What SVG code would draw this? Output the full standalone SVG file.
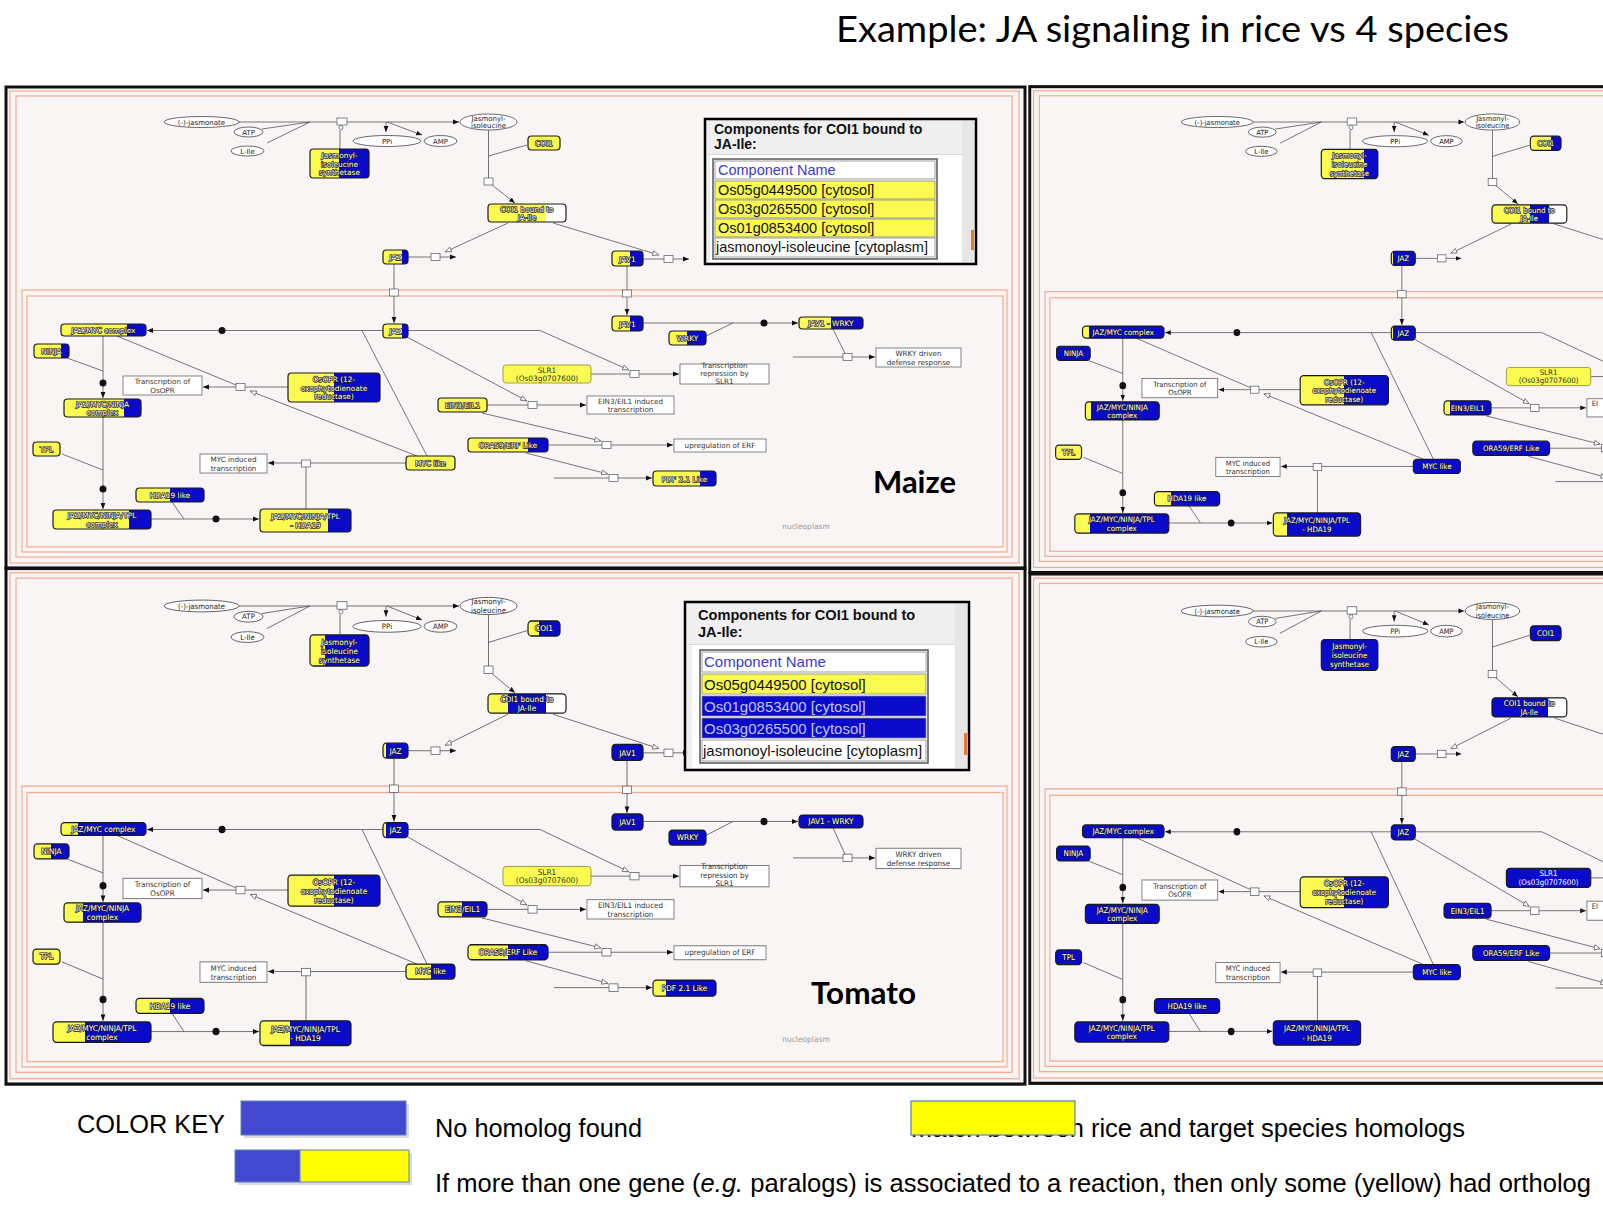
<svg xmlns="http://www.w3.org/2000/svg" width="1603" height="1229" viewBox="0 0 1603 1229">
<style>
.t{font-family:"DejaVu Sans",Verdana,sans-serif;font-size:7.4px;fill:#fff;stroke:#1a1a1a;stroke-width:1.4px;stroke-linejoin:round;paint-order:stroke;text-anchor:middle}
.ts{font-family:"DejaVu Sans",Verdana,sans-serif;font-size:7.4px;fill:#333;text-anchor:middle}
.tw{font-family:"DejaVu Sans",Verdana,sans-serif;font-size:7.4px;fill:#fff;text-anchor:middle}
.f{rx:3.5px;ry:3.5px}
.o{fill:none;stroke:#1a1a1a;stroke-width:1.2px;rx:3.5px;ry:3.5px}
.o1{fill:none;stroke:#8a8a3a;stroke-width:.8px;rx:3px;ry:3px}
.el{fill:#fff;stroke:#444;stroke-width:.8px}
.et{font-family:"DejaVu Sans",sans-serif;font-size:7px;fill:#222;text-anchor:middle}
.bx{fill:#fff;stroke:#666;stroke-width:.8px}
.bt{font-family:"DejaVu Sans",sans-serif;font-size:7.2px;fill:#333;text-anchor:middle}
.bs{font-family:"DejaVu Sans",sans-serif;font-size:7.2px;fill:#333}
.w{fill:none;stroke:#555;stroke-width:.8px}
.a{marker-end:url(#ah)}
.h{marker-end:url(#ht)}
.pb{fill:#fff;stroke:#555;stroke-width:.7px}
.d{fill:#111}
.bk{fill:#f9f5f4;stroke:#111;stroke-width:3px}
.or{fill:none;stroke:#f3ab90;stroke-width:1.2px}
.np{font-family:"DejaVu Sans",sans-serif;font-size:7.5px;fill:#999;text-anchor:middle}
.sy{stop-color:#fafa50}.sb{stop-color:#0a0acb}.sw{stop-color:#fff}
.Y{fill:#fafa50}.B{fill:#0a0acb}
.pp{fill:#efefef;stroke:#000;stroke-width:2.5px}
.ph{font-family:"Liberation Sans",Arial,sans-serif;font-weight:bold;font-size:14px;fill:#111}
.pr{font-family:"Liberation Sans",Arial,sans-serif;font-size:14.5px;fill:#111}
.pc{font-family:"Liberation Sans",Arial,sans-serif;font-size:14.5px;fill:#3a3acc}
.pl{font-family:"Liberation Sans",Arial,sans-serif;font-size:15px;fill:#c4c6ff}
.rw{fill:#fff;stroke:#888;stroke-width:.8px}
.ry{fill:#fafa50;stroke:#888;stroke-width:.8px}
.rb{fill:#0a0acb;stroke:#888;stroke-width:.8px}
.k{font-family:"Liberation Sans",Arial,sans-serif;font-size:25px;fill:#000}
.lab{font-family:Lato,"Open Sans",sans-serif;font-weight:bold;font-size:31px;fill:#000}
</style>
<defs>
<marker id="ah" viewBox="0 0 10 10" refX="10" refY="5" markerWidth="6" markerHeight="6" markerUnits="userSpaceOnUse" orient="auto"><path d="M0,1L10,5L0,9Z" fill="#111"/></marker>
<marker id="ht" viewBox="0 0 10 10" refX="10" refY="5" markerWidth="7" markerHeight="7" markerUnits="userSpaceOnUse" orient="auto"><path d="M1,1.5L9.5,5L1,8.5Z" fill="#fff" stroke="#555" stroke-width="1"/></marker>
<linearGradient id="y08"><stop offset=".08" class="sy"/><stop offset=".08" class="sb"/></linearGradient>
<linearGradient id="y12"><stop offset=".12" class="sy"/><stop offset=".12" class="sb"/></linearGradient>
<linearGradient id="y16"><stop offset=".16" class="sy"/><stop offset=".16" class="sb"/></linearGradient>
<linearGradient id="y20"><stop offset=".2" class="sy"/><stop offset=".2" class="sb"/></linearGradient>
<linearGradient id="y25"><stop offset=".25" class="sy"/><stop offset=".25" class="sb"/></linearGradient>
<linearGradient id="y33"><stop offset=".33" class="sy"/><stop offset=".33" class="sb"/></linearGradient>
<linearGradient id="y50"><stop offset=".5" class="sy"/><stop offset=".5" class="sb"/></linearGradient>
<linearGradient id="y58"><stop offset=".58" class="sy"/><stop offset=".58" class="sb"/></linearGradient>
<linearGradient id="y66"><stop offset=".66" class="sy"/><stop offset=".66" class="sb"/></linearGradient>
<linearGradient id="y75"><stop offset=".75" class="sy"/><stop offset=".75" class="sb"/></linearGradient>
<linearGradient id="y78"><stop offset=".78" class="sy"/><stop offset=".78" class="sb"/></linearGradient>
<linearGradient id="cbm"><stop offset=".75" class="sy"/><stop offset=".75" class="sw"/></linearGradient>
<linearGradient id="cbt"><stop offset=".26" class="sy"/><stop offset=".26" class="sb"/><stop offset=".75" class="sb"/><stop offset=".75" class="sw"/></linearGradient>
<linearGradient id="cbr"><stop offset=".51" class="sy"/><stop offset=".51" class="sb"/><stop offset=".76" class="sb"/><stop offset=".76" class="sw"/></linearGradient>
<linearGradient id="cbb"><stop offset=".75" class="sb"/><stop offset=".75" class="sw"/></linearGradient>
<g id="wires">
<path class="w" d="M239,122H337M262,129L310,122M267,143L310,122M340,149V130"/>
<path class="w a" d="M347,122H459"/>
<path class="w a" d="M386,122V132"/>
<path class="w a" d="M387,122L422,135"/>
<rect class="pb" x="337" y="118" width="10" height="7"/>
<circle class="pb" cx="341" cy="127.5" r="2"/>
<path class="w" d="M488.5,130V178M527,145L488.5,156"/>
<rect class="pb" x="484" y="178" width="9" height="7"/>
<path class="w a" d="M492,185L515,203"/>
<path class="w h" d="M508,223L445,252"/>
<path class="w" d="M408,257H431"/>
<rect class="pb" x="431" y="253.5" width="9" height="7"/>
<path class="w a" d="M440,257H456"/>
<path class="w h" d="M553,223L659,255"/>
<path class="w" d="M643,259H664"/>
<rect class="pb" x="664" y="255.5" width="9" height="7"/>
<path class="w a" d="M673,259H689"/>
<path class="w" d="M394,264V289"/>
<rect class="pb" x="389.5" y="289" width="9" height="7"/>
<path class="w a" d="M394,296V323"/>
<path class="w" d="M627,266V290"/>
<rect class="pb" x="622.5" y="290" width="9" height="7"/>
<path class="w a" d="M627,297V315"/>
<path class="w a" d="M383,330.5H147"/>
<circle class="d" cx="222" cy="330.5" r="3.5"/>
<path class="w h" d="M408,330.5H540L629,370"/>
<path class="w h" d="M407,337L527,401"/>
<path class="w" d="M362,330.5L427,456"/>
<path class="w" d="M117,336L236,385"/>
<path class="w h" d="M417,456L250,391"/>
<path class="w" d="M288,387H245"/>
<rect class="pb" x="236" y="383.5" width="9" height="7"/>
<path class="w a" d="M236,387H203"/>
<path class="w" d="M67,358L103,371M62,454L103,470M172,502L184,519"/>
<path class="w a" d="M103,335.5V398"/>
<circle class="d" cx="103" cy="383" r="3.5"/>
<path class="w a" d="M103,417V509"/>
<circle class="d" cx="103" cy="489" r="3.5"/>
<path class="w a" d="M151,519H259"/>
<circle class="d" cx="216" cy="519" r="3.5"/>
<path class="w" d="M306,509V467"/>
<rect class="pb" x="301.5" y="460" width="9" height="7"/>
<path class="w" d="M406,463H310.5"/>
<path class="w a" d="M301.5,463H268"/>
<path class="w" d="M591,374H630"/>
<rect class="pb" x="630" y="370.5" width="9" height="7"/>
<path class="w a" d="M639,374H679"/>
<path class="w" d="M487,405H528"/>
<rect class="pb" x="528" y="401.5" width="9" height="7"/>
<path class="w a" d="M537,405H586"/>
<path class="w h" d="M482,413L601,441"/>
<path class="w" d="M548,445H602"/>
<rect class="pb" x="602" y="441.5" width="9" height="7"/>
<path class="w a" d="M611,445H673"/>
<path class="w h" d="M526,453L608,474"/>
<path class="w" d="M554,478H609"/>
<rect class="pb" x="609" y="474.5" width="9" height="7"/>
<path class="w a" d="M618,478H652"/>
<path class="w a" d="M643,323H798"/>
<circle class="d" cx="764" cy="323" r="3.5"/>
<path class="w" d="M706,336L733,323M833,329L845,353.5M793,357H843"/>
<rect class="pb" x="843" y="353.5" width="9" height="7"/>
<path class="w a" d="M852,357H875"/>
</g>
</defs>
<rect width="1603" height="1229" fill="#fff"/>

<!-- ================= MAIZE ================= -->
<g id="panel-maize">
<rect class="bk" x="6" y="87" width="1019" height="481"/>
<rect class="or" x="10" y="91" width="1009" height="472"/>
<rect class="or" x="16" y="96" width="996" height="461"/>
<rect class="or" x="22" y="290" width="985" height="262"/>
<rect class="or" x="27" y="296" width="976" height="251"/>
<text class="np" x="806" y="529">nucleoplasm</text>
<g id="mz-connectors"><use href="#wires"/></g>
<g id="mz-nodes">
<g id="mz-jas"><ellipse class="el" cx="201.5" cy="122" rx="37.5" ry="5.5"/><text class="et" x="201.5" y="124.5">(-)-jasmonate</text></g>
<g id="mz-atp"><ellipse class="el" cx="248.5" cy="132" rx="14.5" ry="5"/><text class="et" x="248.5" y="134.5">ATP</text></g>
<g id="mz-lile"><ellipse class="el" cx="247.5" cy="151" rx="16.5" ry="5"/><text class="et" x="247.5" y="153.5">L-Ile</text></g>
<g id="mz-ppi"><ellipse class="el" cx="387" cy="141" rx="34" ry="5.5"/><text class="et" x="387" y="143.5">PPi</text></g>
<g id="mz-amp"><ellipse class="el" cx="440.5" cy="141" rx="16.5" ry="5.5"/><text class="et" x="440.5" y="143.5">AMP</text></g>
<g id="mz-jaile"><ellipse class="el" cx="488.5" cy="122" rx="28.5" ry="8"/><text class="et" x="488.5" y="120.5">Jasmonyl-</text><text class="et" x="488.5" y="128.3">isoleucine</text></g>
<g id="mz-topr"><rect class="bx" x="123" y="376" width="79" height="19"/><text class="bt" x="162.5" y="384.3">Transcription of</text><text class="bt" x="162.5" y="392.5">OsOPR</text></g>
<g id="mz-tmyc"><rect class="bx" x="200" y="454" width="67" height="19"/><text class="bt" x="233.5" y="462.3">MYC induced</text><text class="bt" x="233.5" y="470.5">transcription</text></g>
<g id="mz-tslr"><rect class="bx" x="680" y="364" width="89" height="20"/><text class="bt" x="724.5" y="367.5">Transcription</text><text class="bt" x="724.5" y="375.5">repression by</text><text class="bt" x="724.5" y="383.5">SLR1</text></g>
<g id="mz-tein"><rect class="bx" x="587" y="396" width="87" height="18"/><text class="bt" x="630.5" y="403.5">EIN3/EIL1 induced</text><text class="bt" x="630.5" y="411.7">transcription</text></g>
<g id="mz-terf"><rect class="bx" x="674" y="439" width="92" height="13"/><text class="bt" x="720" y="448">upregulation of ERF</text></g>
<g id="mz-twrky"><rect class="bx" x="876" y="348" width="85" height="19"/><text class="bt" x="918.5" y="356.3">WRKY driven</text><text class="bt" x="918.5" y="364.5">defense response</text></g>
<g id="mz-synth"><rect class="f" x="310" y="149" width="59" height="29" fill="url(#y50)"/><rect class="o" x="310" y="149" width="59" height="29"/><text class="t" x="339.5" y="158">Jasmonyl-</text><text class="t" x="339.5" y="166.5">isoleucine</text><text class="t" x="339.5" y="175">synthetase</text></g>
<g id="mz-coi1"><rect class="f Y" x="528" y="136" width="32" height="14"/><rect class="o" x="528" y="136" width="32" height="14"/><text class="t" x="544" y="145.7">COI1</text></g>
<g id="mz-cb"><rect class="f" x="488" y="204" width="78" height="18" fill="url(#cbm)"/><rect class="o" x="488" y="204" width="78" height="18"/><text class="t" x="527" y="211.8">COI1 bound to</text><text class="t" x="527" y="219.8">JA-Ile</text></g>
<g id="mz-jaz1"><rect class="f" x="383" y="250" width="25" height="14" fill="url(#y75)"/><rect class="o" x="383" y="250" width="25" height="14"/><text class="t" x="395.5" y="259.7">JAZ</text></g>
<g id="mz-jav1a"><rect class="f" x="612" y="251" width="31" height="15" fill="url(#y58)"/><rect class="o" x="612" y="251" width="31" height="15"/><text class="t" x="627.5" y="261.5">JAV1</text></g>
<g id="mz-jaz2"><rect class="f" x="383" y="324" width="25" height="14" fill="url(#y75)"/><rect class="o" x="383" y="324" width="25" height="14"/><text class="t" x="395.5" y="333.7">JAZ</text></g>
<g id="mz-jav1b"><rect class="f" x="612" y="316" width="31" height="15" fill="url(#y58)"/><rect class="o" x="612" y="316" width="31" height="15"/><text class="t" x="627.5" y="326.5">JAV1</text></g>
<g id="mz-wrky"><rect class="f" x="669" y="331" width="37" height="14" fill="url(#y50)"/><rect class="o" x="669" y="331" width="37" height="14"/><text class="t" x="687.5" y="340.7">WRKY</text></g>
<g id="mz-jw"><rect class="f" x="799" y="317" width="64" height="12" fill="url(#y50)"/><rect class="o" x="799" y="317" width="64" height="12"/><text class="t" x="831" y="325.8">JAV1 - WRKY</text></g>
<g id="mz-jm"><rect class="f" x="61" y="324" width="85" height="12" fill="url(#y78)"/><rect class="o" x="61" y="324" width="85" height="12"/><text class="t" x="103.5" y="332.8">JAZ/MYC complex</text></g>
<g id="mz-ninja"><rect class="f" x="34" y="344" width="35" height="14" fill="url(#y78)"/><rect class="o" x="34" y="344" width="35" height="14"/><text class="t" x="51.5" y="353.7">NINJA</text></g>
<g id="mz-jmn"><rect class="f" x="64" y="399" width="77" height="18" fill="url(#y78)"/><rect class="o" x="64" y="399" width="77" height="18"/><text class="t" x="102.5" y="406.8">JAZ/MYC/NINJA</text><text class="t" x="102.5" y="414.8">complex</text></g>
<g id="mz-tpl"><rect class="f Y" x="33" y="442" width="27" height="14"/><rect class="o" x="33" y="442" width="27" height="14"/><text class="t" x="46.5" y="451.7">TPL</text></g>
<g id="mz-jmnt"><rect class="f" x="53" y="510" width="98" height="19" fill="url(#y78)"/><rect class="o" x="53" y="510" width="98" height="19"/><text class="t" x="102" y="518.3">JAZ/MYC/NINJA/TPL</text><text class="t" x="102" y="526.5">complex</text></g>
<g id="mz-hda"><rect class="f" x="136" y="488" width="68" height="14" fill="url(#y50)"/><rect class="o" x="136" y="488" width="68" height="14"/><text class="t" x="170" y="497.7">HDA19 like</text></g>
<g id="mz-jmnth"><rect class="f" x="260" y="509" width="91" height="23" fill="url(#y75)"/><rect class="o" x="260" y="509" width="91" height="23"/><text class="t" x="305.5" y="519">JAZ/MYC/NINJA/TPL</text><text class="t" x="305.5" y="528">- HDA19</text></g>
<g id="mz-opr"><rect class="f" x="288" y="373" width="92" height="29" fill="url(#y50)"/><rect class="o" x="288" y="373" width="92" height="29"/><text class="t" x="334" y="382">OsOPR (12-</text><text class="t" x="334" y="390.5">oxophytodienoate</text><text class="t" x="334" y="399">reductase)</text></g>
<g id="mz-myc"><rect class="f Y" x="406" y="456" width="49" height="14"/><rect class="o" x="406" y="456" width="49" height="14"/><text class="t" x="430.5" y="465.7">MYC like</text></g>
<g id="mz-slr1"><rect class="f Y" x="503" y="365" width="88" height="18"/><rect class="o1" x="503" y="365" width="88" height="18"/><text class="ts" x="547" y="372.5">SLR1</text><text class="ts" x="547" y="380.7">(Os03g0707600)</text></g>
<g id="mz-ein3"><rect class="f Y" x="438" y="398" width="49" height="14"/><rect class="o" x="438" y="398" width="49" height="14"/><text class="t" x="462.5" y="407.7">EIN3/EIL1</text></g>
<g id="mz-ora"><rect class="f" x="468" y="438" width="80" height="14" fill="url(#y75)"/><rect class="o" x="468" y="438" width="80" height="14"/><text class="t" x="508" y="447.7">ORA59/ERF Like</text></g>
<g id="mz-pdf"><rect class="f" x="653" y="471" width="63" height="15" fill="url(#y75)"/><rect class="o" x="653" y="471" width="63" height="15"/><text class="t" x="684.5" y="481.5">PDF 2.1 Like</text></g>
</g>
</g>

<!-- ================= TOMATO ================= -->
<g id="panel-tomato" transform="matrix(1 0 0 1.072 0 475.2)">
<rect class="bk" x="6" y="87" width="1019" height="481"/>
<rect class="or" x="10" y="91" width="1009" height="472"/>
<rect class="or" x="16" y="96" width="996" height="461"/>
<rect class="or" x="22" y="290" width="985" height="262"/>
<rect class="or" x="27" y="296" width="976" height="251"/>
<text class="np" x="806" y="529">nucleoplasm</text>
<g id="to-connectors"><use href="#wires"/></g>
<g id="to-nodes">
<g id="to-jas"><ellipse class="el" cx="201.5" cy="122" rx="37.5" ry="5.5"/><text class="et" x="201.5" y="124.5">(-)-jasmonate</text></g>
<g id="to-atp"><ellipse class="el" cx="248.5" cy="132" rx="14.5" ry="5"/><text class="et" x="248.5" y="134.5">ATP</text></g>
<g id="to-lile"><ellipse class="el" cx="247.5" cy="151" rx="16.5" ry="5"/><text class="et" x="247.5" y="153.5">L-Ile</text></g>
<g id="to-ppi"><ellipse class="el" cx="387" cy="141" rx="34" ry="5.5"/><text class="et" x="387" y="143.5">PPi</text></g>
<g id="to-amp"><ellipse class="el" cx="440.5" cy="141" rx="16.5" ry="5.5"/><text class="et" x="440.5" y="143.5">AMP</text></g>
<g id="to-jaile"><ellipse class="el" cx="488.5" cy="122" rx="28.5" ry="8"/><text class="et" x="488.5" y="120.5">Jasmonyl-</text><text class="et" x="488.5" y="128.3">isoleucine</text></g>
<g id="to-topr"><rect class="bx" x="123" y="376" width="79" height="19"/><text class="bt" x="162.5" y="384.3">Transcription of</text><text class="bt" x="162.5" y="392.5">OsOPR</text></g>
<g id="to-tmyc"><rect class="bx" x="200" y="454" width="67" height="19"/><text class="bt" x="233.5" y="462.3">MYC induced</text><text class="bt" x="233.5" y="470.5">transcription</text></g>
<g id="to-tslr"><rect class="bx" x="680" y="364" width="89" height="20"/><text class="bt" x="724.5" y="367.5">Transcription</text><text class="bt" x="724.5" y="375.5">repression by</text><text class="bt" x="724.5" y="383.5">SLR1</text></g>
<g id="to-tein"><rect class="bx" x="587" y="396" width="87" height="18"/><text class="bt" x="630.5" y="403.5">EIN3/EIL1 induced</text><text class="bt" x="630.5" y="411.7">transcription</text></g>
<g id="to-terf"><rect class="bx" x="674" y="439" width="92" height="13"/><text class="bt" x="720" y="448">upregulation of ERF</text></g>
<g id="to-twrky"><rect class="bx" x="876" y="348" width="85" height="19"/><text class="bt" x="918.5" y="356.3">WRKY driven</text><text class="bt" x="918.5" y="364.5">defense response</text></g>
<g id="to-synth"><rect class="f" x="310" y="149" width="59" height="29" fill="url(#y25)"/><rect class="o" x="310" y="149" width="59" height="29"/><text class="t" x="339.5" y="158">Jasmonyl-</text><text class="t" x="339.5" y="166.5">isoleucine</text><text class="t" x="339.5" y="175">synthetase</text></g>
<g id="to-coi1"><rect class="f" x="528" y="136" width="32" height="14" fill="url(#y33)"/><rect class="o" x="528" y="136" width="32" height="14"/><text class="t" x="544" y="145.7">COI1</text></g>
<g id="to-cb"><rect class="f" x="488" y="204" width="78" height="18" fill="url(#cbt)"/><rect class="o" x="488" y="204" width="78" height="18"/><text class="t" x="527" y="211.8">COI1 bound to</text><text class="t" x="527" y="219.8">JA-Ile</text></g>
<g id="to-jaz1"><rect class="f" x="383" y="250" width="25" height="14" fill="url(#y12)"/><rect class="o" x="383" y="250" width="25" height="14"/><text class="t" x="395.5" y="259.7">JAZ</text></g>
<g id="to-jav1a"><rect class="f B" x="612" y="251" width="31" height="15"/><rect class="o" x="612" y="251" width="31" height="15"/><text class="t" x="627.5" y="261.5">JAV1</text></g>
<g id="to-jaz2"><rect class="f" x="383" y="324" width="25" height="14" fill="url(#y12)"/><rect class="o" x="383" y="324" width="25" height="14"/><text class="t" x="395.5" y="333.7">JAZ</text></g>
<g id="to-jav1b"><rect class="f B" x="612" y="316" width="31" height="15"/><rect class="o" x="612" y="316" width="31" height="15"/><text class="t" x="627.5" y="326.5">JAV1</text></g>
<g id="to-wrky"><rect class="f B" x="669" y="331" width="37" height="14"/><rect class="o" x="669" y="331" width="37" height="14"/><text class="t" x="687.5" y="340.7">WRKY</text></g>
<g id="to-jw"><rect class="f B" x="799" y="317" width="64" height="12"/><rect class="o" x="799" y="317" width="64" height="12"/><text class="t" x="831" y="325.8">JAV1 - WRKY</text></g>
<g id="to-jm"><rect class="f" x="61" y="324" width="85" height="12" fill="url(#y20)"/><rect class="o" x="61" y="324" width="85" height="12"/><text class="t" x="103.5" y="332.8">JAZ/MYC complex</text></g>
<g id="to-ninja"><rect class="f" x="34" y="344" width="35" height="14" fill="url(#y50)"/><rect class="o" x="34" y="344" width="35" height="14"/><text class="t" x="51.5" y="353.7">NINJA</text></g>
<g id="to-jmn"><rect class="f" x="64" y="399" width="77" height="18" fill="url(#y25)"/><rect class="o" x="64" y="399" width="77" height="18"/><text class="t" x="102.5" y="406.8">JAZ/MYC/NINJA</text><text class="t" x="102.5" y="414.8">complex</text></g>
<g id="to-tpl"><rect class="f Y" x="33" y="442" width="27" height="14"/><rect class="o" x="33" y="442" width="27" height="14"/><text class="t" x="46.5" y="451.7">TPL</text></g>
<g id="to-jmnt"><rect class="f" x="53" y="510" width="98" height="19" fill="url(#y33)"/><rect class="o" x="53" y="510" width="98" height="19"/><text class="t" x="102" y="518.3">JAZ/MYC/NINJA/TPL</text><text class="t" x="102" y="526.5">complex</text></g>
<g id="to-hda"><rect class="f" x="136" y="488" width="68" height="14" fill="url(#y50)"/><rect class="o" x="136" y="488" width="68" height="14"/><text class="t" x="170" y="497.7">HDA19 like</text></g>
<g id="to-jmnth"><rect class="f" x="260" y="509" width="91" height="23" fill="url(#y33)"/><rect class="o" x="260" y="509" width="91" height="23"/><text class="t" x="305.5" y="519">JAZ/MYC/NINJA/TPL</text><text class="t" x="305.5" y="528">- HDA19</text></g>
<g id="to-opr"><rect class="f" x="288" y="373" width="92" height="29" fill="url(#y50)"/><rect class="o" x="288" y="373" width="92" height="29"/><text class="t" x="334" y="382">OsOPR (12-</text><text class="t" x="334" y="390.5">oxophytodienoate</text><text class="t" x="334" y="399">reductase)</text></g>
<g id="to-myc"><rect class="f" x="406" y="456" width="49" height="14" fill="url(#y50)"/><rect class="o" x="406" y="456" width="49" height="14"/><text class="t" x="430.5" y="465.7">MYC like</text></g>
<g id="to-slr1"><rect class="f Y" x="503" y="365" width="88" height="18"/><rect class="o1" x="503" y="365" width="88" height="18"/><text class="ts" x="547" y="372.5">SLR1</text><text class="ts" x="547" y="380.7">(Os03g0707600)</text></g>
<g id="to-ein3"><rect class="f" x="438" y="398" width="49" height="14" fill="url(#y50)"/><rect class="o" x="438" y="398" width="49" height="14"/><text class="t" x="462.5" y="407.7">EIN3/EIL1</text></g>
<g id="to-ora"><rect class="f" x="468" y="438" width="80" height="14" fill="url(#y50)"/><rect class="o" x="468" y="438" width="80" height="14"/><text class="t" x="508" y="447.7">ORA59/ERF Like</text></g>
<g id="to-pdf"><rect class="f" x="653" y="471" width="63" height="15" fill="url(#y20)"/><rect class="o" x="653" y="471" width="63" height="15"/><text class="t" x="684.5" y="481.5">PDF 2.1 Like</text></g>
</g>
</g>

<!-- ================= TOP RIGHT ================= -->
<g id="panel-tr" transform="matrix(0.959 0 0 1.01 1024 -1.2)">
<rect class="bk" x="6" y="87" width="1019" height="481"/>
<rect class="or" x="10" y="91" width="1009" height="472"/>
<rect class="or" x="16" y="96" width="996" height="461"/>
<rect class="or" x="22" y="290" width="985" height="262"/>
<rect class="or" x="27" y="296" width="976" height="251"/>
<g id="tr-connectors"><use href="#wires"/></g>
<g id="tr-nodes">
<g id="tr-jas"><ellipse class="el" cx="201.5" cy="122" rx="37.5" ry="5.5"/><text class="et" x="201.5" y="124.5">(-)-jasmonate</text></g>
<g id="tr-atp"><ellipse class="el" cx="248.5" cy="132" rx="14.5" ry="5"/><text class="et" x="248.5" y="134.5">ATP</text></g>
<g id="tr-lile"><ellipse class="el" cx="247.5" cy="151" rx="16.5" ry="5"/><text class="et" x="247.5" y="153.5">L-Ile</text></g>
<g id="tr-ppi"><ellipse class="el" cx="387" cy="141" rx="34" ry="5.5"/><text class="et" x="387" y="143.5">PPi</text></g>
<g id="tr-amp"><ellipse class="el" cx="440.5" cy="141" rx="16.5" ry="5.5"/><text class="et" x="440.5" y="143.5">AMP</text></g>
<g id="tr-jaile"><ellipse class="el" cx="488.5" cy="122" rx="28.5" ry="8"/><text class="et" x="488.5" y="120.5">Jasmonyl-</text><text class="et" x="488.5" y="128.3">isoleucine</text></g>
<g id="tr-topr"><rect class="bx" x="123" y="376" width="79" height="19"/><text class="bt" x="162.5" y="384.3">Transcription of</text><text class="bt" x="162.5" y="392.5">OsOPR</text></g>
<g id="tr-tmyc"><rect class="bx" x="200" y="454" width="67" height="19"/><text class="bt" x="233.5" y="462.3">MYC induced</text><text class="bt" x="233.5" y="470.5">transcription</text></g>
<g id="tr-tein"><rect class="bx" x="587" y="396" width="87" height="18"/><text class="bs" x="592" y="403.5">EI</text></g>
<g id="tr-synth"><rect class="f" x="310" y="149" width="59" height="29" fill="url(#y75)"/><rect class="o" x="310" y="149" width="59" height="29"/><text class="t" x="339.5" y="158">Jasmonyl-</text><text class="t" x="339.5" y="166.5">isoleucine</text><text class="t" x="339.5" y="175">synthetase</text></g>
<g id="tr-coi1"><rect class="f" x="528" y="136" width="32" height="14" fill="url(#y66)"/><rect class="o" x="528" y="136" width="32" height="14"/><text class="t" x="544" y="145.7">COI1</text></g>
<g id="tr-cb"><rect class="f" x="488" y="204" width="78" height="18" fill="url(#cbr)"/><rect class="o" x="488" y="204" width="78" height="18"/><text class="t" x="527" y="211.8">COI1 bound to</text><text class="t" x="527" y="219.8">JA-Ile</text></g>
<g id="tr-jaz1"><rect class="f" x="383" y="250" width="25" height="14" fill="url(#y08)"/><rect class="o" x="383" y="250" width="25" height="14"/><text class="t" x="395.5" y="259.7">JAZ</text></g>
<g id="tr-jaz2"><rect class="f" x="383" y="324" width="25" height="14" fill="url(#y08)"/><rect class="o" x="383" y="324" width="25" height="14"/><text class="t" x="395.5" y="333.7">JAZ</text></g>
<g id="tr-jm"><rect class="f" x="61" y="324" width="85" height="12" fill="url(#y08)"/><rect class="o" x="61" y="324" width="85" height="12"/><text class="t" x="103.5" y="332.8">JAZ/MYC complex</text></g>
<g id="tr-ninja"><rect class="f B" x="34" y="344" width="35" height="14"/><rect class="o" x="34" y="344" width="35" height="14"/><text class="t" x="51.5" y="353.7">NINJA</text></g>
<g id="tr-jmn"><rect class="f" x="64" y="399" width="77" height="18" fill="url(#y08)"/><rect class="o" x="64" y="399" width="77" height="18"/><text class="t" x="102.5" y="406.8">JAZ/MYC/NINJA</text><text class="t" x="102.5" y="414.8">complex</text></g>
<g id="tr-tpl"><rect class="f Y" x="33" y="442" width="27" height="14"/><rect class="o" x="33" y="442" width="27" height="14"/><text class="t" x="46.5" y="451.7">TPL</text></g>
<g id="tr-jmnt"><rect class="f" x="53" y="510" width="98" height="19" fill="url(#y16)"/><rect class="o" x="53" y="510" width="98" height="19"/><text class="t" x="102" y="518.3">JAZ/MYC/NINJA/TPL</text><text class="t" x="102" y="526.5">complex</text></g>
<g id="tr-hda"><rect class="f" x="136" y="488" width="68" height="14" fill="url(#y25)"/><rect class="o" x="136" y="488" width="68" height="14"/><text class="t" x="170" y="497.7">HDA19 like</text></g>
<g id="tr-jmnth"><rect class="f" x="260" y="509" width="91" height="23" fill="url(#y16)"/><rect class="o" x="260" y="509" width="91" height="23"/><text class="t" x="305.5" y="519">JAZ/MYC/NINJA/TPL</text><text class="t" x="305.5" y="528">- HDA19</text></g>
<g id="tr-opr"><rect class="f" x="288" y="373" width="92" height="29" fill="url(#y50)"/><rect class="o" x="288" y="373" width="92" height="29"/><text class="t" x="334" y="382">OsOPR (12-</text><text class="t" x="334" y="390.5">oxophytodienoate</text><text class="t" x="334" y="399">reductase)</text></g>
<g id="tr-myc"><rect class="f B" x="406" y="456" width="49" height="14"/><rect class="o" x="406" y="456" width="49" height="14"/><text class="t" x="430.5" y="465.7">MYC like</text></g>
<g id="tr-slr1"><rect class="f Y" x="503" y="365" width="88" height="18"/><rect class="o1" x="503" y="365" width="88" height="18"/><text class="ts" x="547" y="372.5">SLR1</text><text class="ts" x="547" y="380.7">(Os03g0707600)</text></g>
<g id="tr-ein3"><rect class="f" x="438" y="398" width="49" height="14" fill="url(#y12)"/><rect class="o" x="438" y="398" width="49" height="14"/><text class="t" x="462.5" y="407.7">EIN3/EIL1</text></g>
<g id="tr-ora"><rect class="f B" x="468" y="438" width="80" height="14"/><rect class="o" x="468" y="438" width="80" height="14"/><text class="t" x="508" y="447.7">ORA59/ERF Like</text></g>
</g>
</g>

<!-- ================= BOTTOM RIGHT ================= -->
<g id="panel-br" transform="matrix(0.959 0 0 1.059 1024 481.8)">
<rect class="bk" x="6" y="87" width="1019" height="481"/>
<rect class="or" x="10" y="91" width="1009" height="472"/>
<rect class="or" x="16" y="96" width="996" height="461"/>
<rect class="or" x="22" y="290" width="985" height="262"/>
<rect class="or" x="27" y="296" width="976" height="251"/>
<g id="br-connectors"><use href="#wires"/></g>
<g id="br-nodes">
<g id="br-jas"><ellipse class="el" cx="201.5" cy="122" rx="37.5" ry="5.5"/><text class="et" x="201.5" y="124.5">(-)-jasmonate</text></g>
<g id="br-atp"><ellipse class="el" cx="248.5" cy="132" rx="14.5" ry="5"/><text class="et" x="248.5" y="134.5">ATP</text></g>
<g id="br-lile"><ellipse class="el" cx="247.5" cy="151" rx="16.5" ry="5"/><text class="et" x="247.5" y="153.5">L-Ile</text></g>
<g id="br-ppi"><ellipse class="el" cx="387" cy="141" rx="34" ry="5.5"/><text class="et" x="387" y="143.5">PPi</text></g>
<g id="br-amp"><ellipse class="el" cx="440.5" cy="141" rx="16.5" ry="5.5"/><text class="et" x="440.5" y="143.5">AMP</text></g>
<g id="br-jaile"><ellipse class="el" cx="488.5" cy="122" rx="28.5" ry="8"/><text class="et" x="488.5" y="120.5">Jasmonyl-</text><text class="et" x="488.5" y="128.3">isoleucine</text></g>
<g id="br-topr"><rect class="bx" x="123" y="376" width="79" height="19"/><text class="bt" x="162.5" y="384.3">Transcription of</text><text class="bt" x="162.5" y="392.5">OsOPR</text></g>
<g id="br-tmyc"><rect class="bx" x="200" y="454" width="67" height="19"/><text class="bt" x="233.5" y="462.3">MYC induced</text><text class="bt" x="233.5" y="470.5">transcription</text></g>
<g id="br-tein"><rect class="bx" x="587" y="396" width="87" height="18"/><text class="bs" x="592" y="403.5">EI</text></g>
<g id="br-synth"><rect class="f B" x="310" y="149" width="59" height="29"/><rect class="o" x="310" y="149" width="59" height="29"/><text class="t" x="339.5" y="158">Jasmonyl-</text><text class="t" x="339.5" y="166.5">isoleucine</text><text class="t" x="339.5" y="175">synthetase</text></g>
<g id="br-coi1"><rect class="f B" x="528" y="136" width="32" height="14"/><rect class="o" x="528" y="136" width="32" height="14"/><text class="t" x="544" y="145.7">COI1</text></g>
<g id="br-cb"><rect class="f" x="488" y="204" width="78" height="18" fill="url(#cbb)"/><rect class="o" x="488" y="204" width="78" height="18"/><text class="t" x="527" y="211.8">COI1 bound to</text><text class="t" x="527" y="219.8">JA-Ile</text></g>
<g id="br-jaz1"><rect class="f B" x="383" y="250" width="25" height="14"/><rect class="o" x="383" y="250" width="25" height="14"/><text class="t" x="395.5" y="259.7">JAZ</text></g>
<g id="br-jaz2"><rect class="f B" x="383" y="324" width="25" height="14"/><rect class="o" x="383" y="324" width="25" height="14"/><text class="t" x="395.5" y="333.7">JAZ</text></g>
<g id="br-jm"><rect class="f B" x="61" y="324" width="85" height="12"/><rect class="o" x="61" y="324" width="85" height="12"/><text class="t" x="103.5" y="332.8">JAZ/MYC complex</text></g>
<g id="br-ninja"><rect class="f B" x="34" y="344" width="35" height="14"/><rect class="o" x="34" y="344" width="35" height="14"/><text class="t" x="51.5" y="353.7">NINJA</text></g>
<g id="br-jmn"><rect class="f B" x="64" y="399" width="77" height="18"/><rect class="o" x="64" y="399" width="77" height="18"/><text class="t" x="102.5" y="406.8">JAZ/MYC/NINJA</text><text class="t" x="102.5" y="414.8">complex</text></g>
<g id="br-tpl"><rect class="f B" x="33" y="442" width="27" height="14"/><rect class="o" x="33" y="442" width="27" height="14"/><text class="t" x="46.5" y="451.7">TPL</text></g>
<g id="br-jmnt"><rect class="f B" x="53" y="510" width="98" height="19"/><rect class="o" x="53" y="510" width="98" height="19"/><text class="t" x="102" y="518.3">JAZ/MYC/NINJA/TPL</text><text class="t" x="102" y="526.5">complex</text></g>
<g id="br-hda"><rect class="f B" x="136" y="488" width="68" height="14"/><rect class="o" x="136" y="488" width="68" height="14"/><text class="t" x="170" y="497.7">HDA19 like</text></g>
<g id="br-jmnth"><rect class="f B" x="260" y="509" width="91" height="23"/><rect class="o" x="260" y="509" width="91" height="23"/><text class="t" x="305.5" y="519">JAZ/MYC/NINJA/TPL</text><text class="t" x="305.5" y="528">- HDA19</text></g>
<g id="br-opr"><rect class="f" x="288" y="373" width="92" height="29" fill="url(#y50)"/><rect class="o" x="288" y="373" width="92" height="29"/><text class="t" x="334" y="382">OsOPR (12-</text><text class="t" x="334" y="390.5">oxophytodienoate</text><text class="t" x="334" y="399">reductase)</text></g>
<g id="br-myc"><rect class="f B" x="406" y="456" width="49" height="14"/><rect class="o" x="406" y="456" width="49" height="14"/><text class="t" x="430.5" y="465.7">MYC like</text></g>
<g id="br-slr1"><rect class="f B" x="503" y="365" width="88" height="18"/><rect class="o" x="503" y="365" width="88" height="18"/><text class="tw" x="547" y="372.5">SLR1</text><text class="tw" x="547" y="380.7">(Os03g0707600)</text></g>
<g id="br-ein3"><rect class="f B" x="438" y="398" width="49" height="14"/><rect class="o" x="438" y="398" width="49" height="14"/><text class="t" x="462.5" y="407.7">EIN3/EIL1</text></g>
<g id="br-ora"><rect class="f B" x="468" y="438" width="80" height="14"/><rect class="o" x="468" y="438" width="80" height="14"/><text class="t" x="508" y="447.7">ORA59/ERF Like</text></g>
</g>
</g>

<!-- ================= POPUPS ================= -->
<g id="mz-popup">
<rect class="pp" x="705" y="119" width="271" height="145"/>
<rect x="710" y="155" width="252" height="107" fill="#fff"/>
<rect x="962" y="121" width="12" height="141" fill="#e6e6e6"/>
<rect x="971" y="230" width="3" height="20" fill="#e8792a"/>
<line x1="708" y1="154.5" x2="962" y2="154.5" stroke="#d8d8d8"/>
<text class="ph" x="714" y="134">Components for COI1 bound to</text>
<text class="ph" x="714" y="149">JA-Ile:</text>
<rect x="713" y="159" width="224" height="100" fill="none" stroke="#555" stroke-width="1.5"/>
<rect class="rw" x="715" y="161" width="220" height="18"/>
<rect class="ry" x="715" y="181" width="220" height="18"/>
<rect class="ry" x="715" y="200" width="220" height="18"/>
<rect class="ry" x="715" y="219" width="220" height="18"/>
<rect class="rw" x="715" y="238" width="220" height="19"/>
<text class="pc" x="718" y="175">Component Name</text>
<text class="pr" x="718" y="194.5">Os05g0449500 [cytosol]</text>
<text class="pr" x="718" y="213.5">Os03g0265500 [cytosol]</text>
<text class="pr" x="718" y="232.5">Os01g0853400 [cytosol]</text>
<text class="pr" x="716" y="252">jasmonoyl-isoleucine [cytoplasm]</text>
</g>
<g id="to-popup">
<rect class="pp" x="685" y="602" width="284" height="168"/>
<rect x="692" y="645" width="263" height="123" fill="#fff"/>
<rect x="955" y="604" width="12" height="164" fill="#e6e6e6"/>
<rect x="964" y="733" width="3" height="22" fill="#e8792a"/>
<line x1="688" y1="644.5" x2="955" y2="644.5" stroke="#d8d8d8"/>
<text class="ph" x="698" y="620" style="font-size:14.6px">Components for COI1 bound to</text>
<text class="ph" x="698" y="637" style="font-size:14.6px">JA-Ile:</text>
<rect x="700" y="650" width="228" height="113" fill="none" stroke="#555" stroke-width="1.5"/>
<rect class="rw" x="702" y="652" width="224" height="20"/>
<rect class="ry" x="702" y="674" width="224" height="20"/>
<rect class="rb" x="702" y="696" width="224" height="20"/>
<rect class="rb" x="702" y="718" width="224" height="20"/>
<rect class="rw" x="702" y="740" width="224" height="21"/>
<text class="pc" x="704" y="667" style="font-size:15px">Component Name</text>
<text class="pr" x="704" y="689.5" style="font-size:15px">Os05g0449500 [cytosol]</text>
<text class="pl" x="704" y="711.5">Os01g0853400 [cytosol]</text>
<text class="pl" x="704" y="733.5">Os03g0265500 [cytosol]</text>
<text class="pr" x="703" y="755.5" style="font-size:15px">jasmonoyl-isoleucine [cytoplasm]</text>
</g>

<text class="lab" x="873" y="493" textLength="83" lengthAdjust="spacingAndGlyphs">Maize</text>
<text class="lab" x="811" y="1004" textLength="105" lengthAdjust="spacingAndGlyphs">Tomato</text>

<text x="836" y="42" font-family="Lato, 'Open Sans', sans-serif" font-size="37" fill="#000" textLength="673" lengthAdjust="spacingAndGlyphs">Example: JA signaling in rice vs 4 species</text>

<!-- ================= COLOR KEY ================= -->
<g id="color-key">
<text class="k" x="77" y="1133" textLength="148" lengthAdjust="spacingAndGlyphs">COLOR KEY</text>
<rect x="244" y="1104" width="165" height="34" fill="#999" opacity=".35"/>
<rect x="241" y="1101" width="165" height="34" fill="#4448d0" stroke="#5b80b8" stroke-width="1"/>
<text class="k" x="435" y="1137" textLength="207" lengthAdjust="spacingAndGlyphs">No homolog found</text>
<text class="k" x="911" y="1137" textLength="554" lengthAdjust="spacingAndGlyphs">Match between rice and target species homologs</text>
<rect x="911" y="1101" width="164" height="34" fill="#ffff00" stroke="#5b80b8" stroke-width="1.2"/>
<rect x="238" y="1153" width="174" height="32" fill="#999" opacity=".35"/>
<rect x="235" y="1150" width="65" height="32" fill="#4448d0" stroke="#5b80b8" stroke-width="1"/>
<rect x="300" y="1150" width="109" height="32" fill="#ffff00" stroke="#5b80b8" stroke-width="1"/>
<text class="k" x="435" y="1192" textLength="1156" lengthAdjust="spacingAndGlyphs">If more than one gene (<tspan font-style="italic">e.g.</tspan> paralogs) is associated to a reaction, then only some (yellow) had ortholog</text>
</g>
</svg>
